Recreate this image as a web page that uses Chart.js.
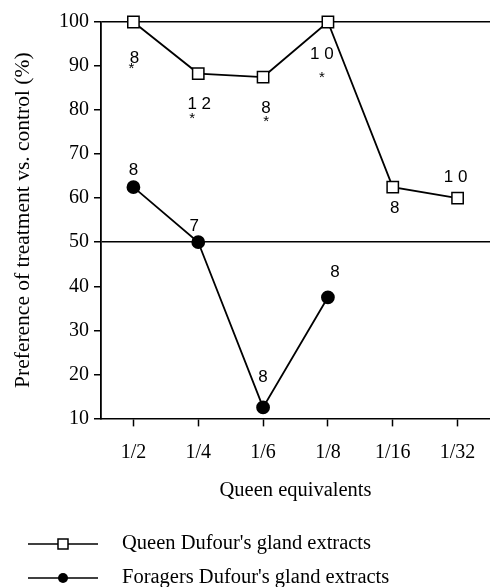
<!DOCTYPE html>
<html>
<head>
<meta charset="utf-8">
<script src="https://cdn.jsdelivr.net/npm/chart.js@4/dist/chart.umd.min.js"></script>
<style>
  html, body { margin: 0; padding: 0; background: #fff; overflow: hidden; }
  #wrap { width: 490px; height: 587px; }
  canvas { display: block; }
</style>
</head>
<body>
<div id="wrap"><canvas id="chart" width="490" height="587"></canvas></div>
<script>
// data
const doses = ["1/2", "1/4", "1/6", "1/8", "1/16", "1/32"];
const queenValues = [100, 88.3, 87.5, 100, 62.5, 60];
const foragerValues = [62.5, 50, 12.5, 37.5, null, null];
const queenN = ["8", "1 2", "8", "1 0", "8", "1 0"];
const queenSig = [true, true, true, true, false, false];
const foragerN = ["8", "7", "8", "8", null, null];
const yTicks = [10, 20, 30, 40, 50, 60, 70, 80, 90, 100];

// where each n label sits relative to its point (px)
const queenLabelOffset = [[1, 36], [1, 31], [3, 31], [-6, 32], [2, 21], [-2, -21]];
const queenStarOffset = [[-2, 47], [-6, 45], [3, 45], [-6, 56]];
const foragerLabelOffset = [[0, -17], [-4, -16], [0, -30], [7, -25]];

const serif = "'Liberation Serif', 'Times New Roman', serif";
const sans = "'Liberation Sans', Arial, sans-serif";

const nLabels = {
  id: "nLabels",
  afterDatasetsDraw(chart) {
    const ctx = chart.ctx;
    const x = chart.scales.x, y = chart.scales.y;
    ctx.save();
    ctx.fillStyle = "#000";
    ctx.textAlign = "center";
    ctx.textBaseline = "middle";
    queenN.forEach((n, i) => {
      const px = x.getPixelForValue(i), py = y.getPixelForValue(queenValues[i]);
      ctx.font = "17px " + sans;
      ctx.fillText(n, px + queenLabelOffset[i][0], py + queenLabelOffset[i][1]);
      if (queenSig[i]) {
        ctx.font = "15px " + sans;
        ctx.fillText("*", px + queenStarOffset[i][0], py + queenStarOffset[i][1]);
      }
    });
    foragerN.forEach((n, i) => {
      if (n === null) return;
      const px = x.getPixelForValue(i), py = y.getPixelForValue(foragerValues[i]);
      ctx.font = "17px " + sans;
      ctx.fillText(n, px + foragerLabelOffset[i][0], py + foragerLabelOffset[i][1]);
    });
    ctx.restore();
  }
};

const lineLegend = {
  id: "lineLegend",
  afterDraw(chart) {
    const ctx = chart.ctx;
    const rows = [544, 578];
    ctx.save();
    chart.data.datasets.forEach((ds, i) => {
      const yy = rows[i];
      ctx.strokeStyle = "#000";
      ctx.lineWidth = 1.5;
      ctx.beginPath();
      ctx.moveTo(28, yy);
      ctx.lineTo(98, yy);
      ctx.stroke();
      if (ds.pointStyle === "rect") {
        ctx.fillStyle = "#fff";
        ctx.fillRect(58, yy - 5, 10, 10);
        ctx.strokeRect(58, yy - 5, 10, 10);
      } else {
        ctx.fillStyle = "#000";
        ctx.beginPath();
        ctx.arc(63, yy, 5, 0, Math.PI * 2);
        ctx.fill();
      }
      ctx.fillStyle = "#000";
      ctx.font = "20.5px " + serif;
      ctx.textAlign = "left";
      ctx.textBaseline = "middle";
      ctx.fillText(ds.label, 122, yy);
    });
    ctx.restore();
  }
};

new Chart(document.getElementById("chart"), {
  type: "line",
  data: {
    labels: doses,
    datasets: [
      {
        label: "Queen Dufour's gland extracts",
        data: queenValues,
        borderColor: "#000",
        borderWidth: 1.8,
        pointStyle: "rect",
        pointRadius: 8,
        pointBackgroundColor: "#fff",
        pointBorderColor: "#000",
        pointBorderWidth: 1.5,
        clip: false
      },
      {
        label: "Foragers Dufour's gland extracts",
        data: foragerValues,
        borderColor: "#000",
        borderWidth: 1.8,
        pointStyle: "circle",
        pointRadius: 6,
        pointBackgroundColor: "#000",
        pointBorderColor: "#000",
        clip: false
      }
    ]
  },
  options: {
    responsive: false,
    animation: false,
    font: { family: serif },
    layout: { autoPadding: false, padding: { top: 22, right: 0, bottom: 84, left: 0 } },
    plugins: {
      legend: { display: false },
      tooltip: { enabled: false }
    },
    scales: {
      x: {
        offset: true,
        afterFit: (s) => { s.paddingLeft = 0; s.paddingRight = 0; },
        grid: { drawOnChartArea: false, tickColor: "#000", tickLength: 8, tickWidth: 1.5 },
        border: { display: true, color: "#000", width: 1.5 },
        ticks: { color: "#000", font: { family: serif, size: 20 }, padding: 14 },
        title: {
          display: true,
          text: "Queen equivalents",
          color: "#000",
          font: { family: serif, size: 20.5 },
          padding: { top: 0, bottom: 0 }
        }
      },
      y: {
        min: 10,
        max: 100,
        afterBuildTicks: (s) => { s.ticks = yTicks.map(v => ({ value: v })); },
        afterFit: (s) => { s.width = 101; },
        grid: {
          color: (c) => (c.tick && (c.tick.value === 50 || c.tick.value === 100)) ? "#000" : "rgba(0,0,0,0)",
          lineWidth: 1.5,
          tickColor: "#000",
          tickLength: 7,
          tickWidth: 1.5
        },
        border: { display: true, color: "#000", width: 1.8 },
        ticks: { color: "#000", font: { family: serif, size: 20 }, padding: 5 },
        title: {
          display: true,
          text: "Preference of treatment vs. control (%)",
          color: "#000",
          font: { family: serif, size: 21.5 },
          padding: { top: 10, bottom: 0 }
        }
      }
    }
  },
  plugins: [nLabels, lineLegend]
});
</script>
</body>
</html>
